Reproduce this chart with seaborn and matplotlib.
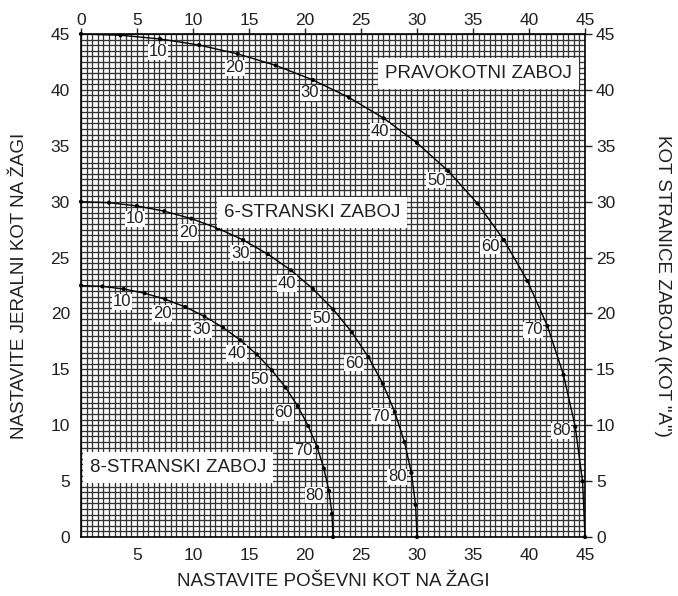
import matplotlib
matplotlib.use("Agg")
import matplotlib.pyplot as plt
import numpy as np
import pandas as pd
import seaborn as sns
from matplotlib.ticker import MultipleLocator, FuncFormatter

# ---- data ----
side_angles = [0, 5, 10, 15, 20, 25, 30, 35, 40, 45, 50, 55, 60, 65, 70, 75, 80, 85, 90]

rect_bevel = [0.0, 3.53, 7.05, 10.55, 14.00, 17.39, 20.70, 23.93, 27.03, 30.00,
              32.80, 35.40, 37.76, 39.86, 41.64, 43.08, 44.13, 44.78, 45.0]
rect_miter = [45.0, 44.89, 44.56, 44.01, 43.22, 42.19, 40.89, 39.32, 37.46, 35.26,
              32.73, 29.84, 26.57, 22.91, 18.88, 14.51, 9.85, 4.98, 0.0]

hex_bevel = [0.0, 2.50, 4.98, 7.44, 9.85, 12.20, 14.48, 16.67, 18.75, 20.70,
             22.52, 24.18, 25.66, 26.95, 28.02, 28.88, 29.50, 29.87, 30.0]
hex_miter = [30.0, 29.91, 29.62, 29.15, 28.48, 27.62, 26.57, 25.31, 23.86, 22.21,
             20.36, 18.32, 16.10, 13.71, 11.17, 8.50, 5.73, 2.88, 0.0]

oct_bevel = [0.0, 1.91, 3.81, 5.68, 7.52, 9.31, 11.03, 12.68, 14.24, 15.70,
             17.05, 18.27, 19.35, 20.29, 21.08, 21.69, 22.14, 22.41, 22.5]
oct_miter = [22.5, 22.42, 22.19, 21.81, 21.27, 20.58, 19.73, 18.74, 17.60, 16.33,
             14.91, 13.37, 11.70, 9.93, 8.06, 6.12, 4.11, 2.07, 0.0]

label_angles = [10, 20, 30, 40, 50, 60, 70, 80]
box_names = ["PRAVOKOTNI ZABOJ", "6-STRANSKI ZABOJ", "8-STRANSKI ZABOJ"]
axis_ticks = [0, 5, 10, 15, 20, 25, 30, 35, 40, 45]

x_title = "NASTAVITE POŠEVNI KOT NA ŽAGI"
y_title = "NASTAVITE JERALNI KOT NA ŽAGI"
y2_title = 'KOT STRANICE ZABOJA (KOT "A")'

# ---- build table ----
frames = []
for name, bv, mt in zip(box_names, [rect_bevel, hex_bevel, oct_bevel],
                        [rect_miter, hex_miter, oct_miter]):
    frames.append(pd.DataFrame({"box": name, "A": side_angles, "bevel": bv, "miter": mt}))
df = pd.concat(frames, ignore_index=True)

# ---- style ----
sns.set_style("white")
plt.rcParams["font.family"] = ["Liberation Sans", "DejaVu Sans"]
TXT = "#231f20"

fig = plt.figure(figsize=(6.78, 5.96), dpi=100)
ax = fig.add_axes([81 / 678, 1 - 537 / 596, 504 / 678, 503 / 596])

ax.set_xlim(0, 45)
ax.set_ylim(0, 45)

ax.xaxis.set_major_locator(MultipleLocator(5))
ax.yaxis.set_major_locator(MultipleLocator(5))
ax.xaxis.set_minor_locator(MultipleLocator(0.5))
ax.yaxis.set_minor_locator(MultipleLocator(0.5))
ax.grid(which="both", color="#333333", linewidth=0.95)
ax.set_axisbelow(True)

sns.lineplot(data=df, x="bevel", y="miter", units="box", estimator=None, sort=False,
             color="black", linewidth=1.0, ax=ax, legend=False, zorder=3)
sns.scatterplot(data=df, x="bevel", y="miter", color="black", s=9, edgecolor="none",
                ax=ax, legend=False, zorder=4, clip_on=False)

# angle labels (offsets in pixels from the marked point)
offsets = {10: (-2, -13), 20: (-3, -14), 30: (-3, -13), 40: (-4, -13),
           50: (-12, -9), 60: (-14, -6), 70: (-14, -4), 80: (-14, -4)}
for name in box_names:
    sub = df[df["box"] == name]
    for a in label_angles:
        row = sub[sub["A"] == a].iloc[0]
        dx, dy = offsets[a]
        ax.annotate(str(a), (row["bevel"], row["miter"]),
                    xytext=(dx * 0.72, dy * 0.72), textcoords="offset points",
                    ha="center", va="center", fontsize=12, color=TXT, zorder=5,
                    bbox=dict(facecolor="white", edgecolor="none", pad=0.6))

# box names
name_pos = [(35.5, 41.5), (20.6, 29.05), (8.68, 6.23)]
for name, (px, py) in zip(box_names, name_pos):
    ax.text(px, py, name, ha="center", va="center", fontsize=13.5, color=TXT, zorder=5,
            bbox=dict(facecolor="white", edgecolor="none", pad=5))

# ticks
ax.set_xticks(axis_ticks)
ax.set_yticks(axis_ticks)
ax.xaxis.set_major_formatter(FuncFormatter(lambda v, p: "" if v == 0 else f"{v:.0f}"))
ax.tick_params(which="major", direction="out", length=5, width=1, colors=TXT,
               labelsize=12.5, pad=3)
ax.tick_params(which="minor", length=0)
ax.set_xlabel("")
ax.set_ylabel("")

top = ax.secondary_xaxis("top")
top.set_xticks(axis_ticks)
top.tick_params(direction="out", length=4, width=1, colors=TXT, labelsize=12.5, pad=0)
right = ax.secondary_yaxis("right")
right.set_yticks(axis_ticks)
right.tick_params(direction="out", length=5, width=1, colors=TXT, labelsize=12.5, pad=3)

for sp in list(ax.spines.values()):
    sp.set_color("black")
    sp.set_linewidth(1.2)
top.spines["top"].set_visible(False)
right.spines["right"].set_visible(False)

fig.text(333 / 678, 1 - 582 / 596, x_title, ha="center", va="center", fontsize=13.5, color=TXT)
fig.text(20 / 678, 1 - 286 / 596, y_title, ha="center", va="center", rotation=90,
         fontsize=13.5, color=TXT)
fig.text(662 / 678, 1 - 286 / 596, y2_title, ha="center", va="center", rotation=-90,
         fontsize=13.5, color=TXT)

fig.savefig("out.png", dpi=100)
